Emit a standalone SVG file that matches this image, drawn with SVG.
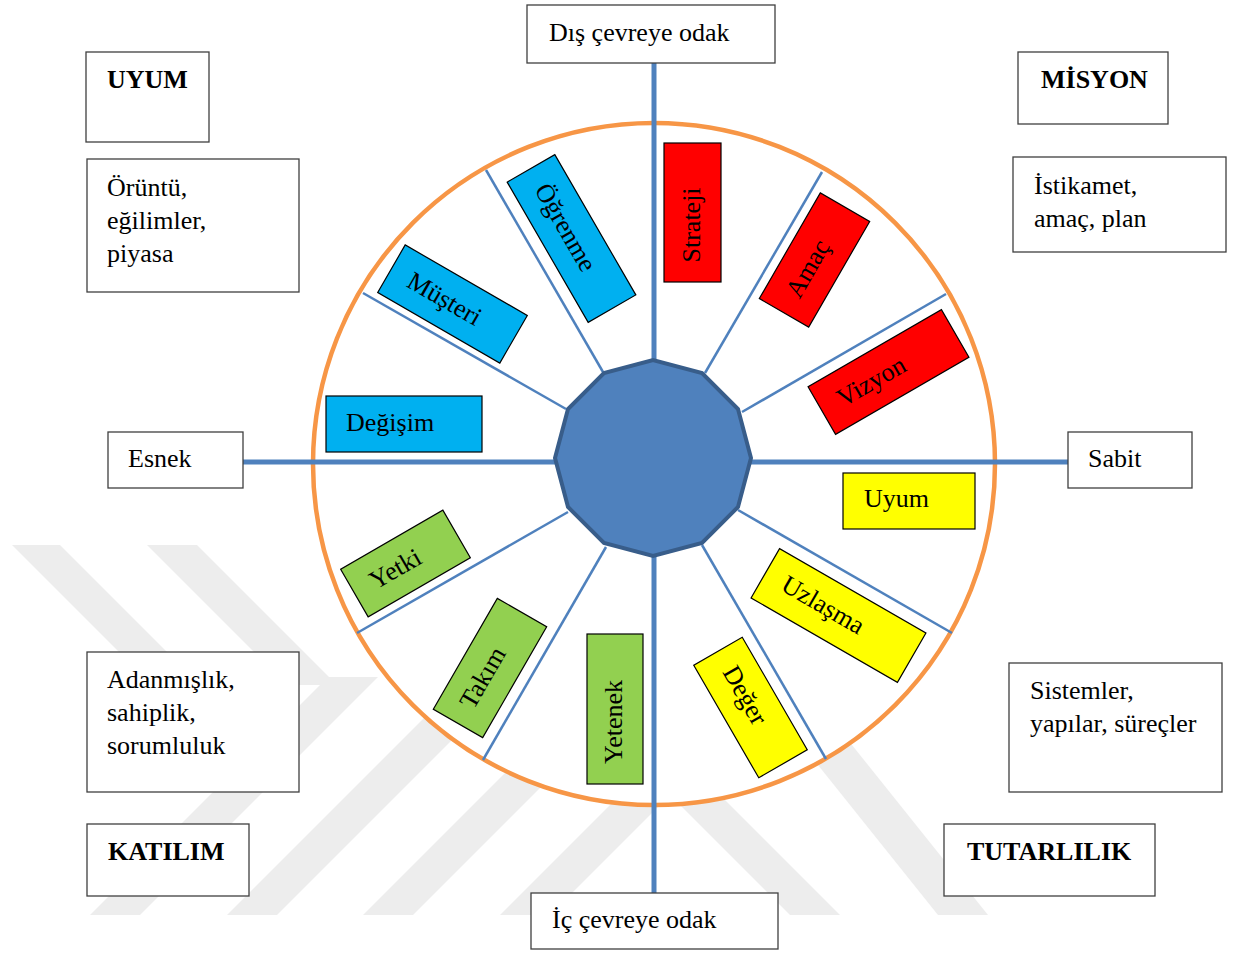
<svg xmlns="http://www.w3.org/2000/svg" width="1235" height="954" viewBox="0 0 1235 954">
  <style>
    text { font-family: "Liberation Serif", "Times New Roman", serif; font-size: 26px; fill: #000; }
    .bold { font-weight: bold; }
    .box { fill: #fff; stroke: #3f3f3f; stroke-width: 1.3; }
    .tag { stroke: #000; stroke-width: 1.2; }
    .blue { fill: #00B0F0; }
    .red { fill: #FF0000; }
    .yellow { fill: #FFFF00; }
    .green { fill: #92D050; }
    .axis { stroke: #4F81BD; stroke-width: 5; fill: none; }
    .spoke { stroke: #4F81BD; stroke-width: 2.5; fill: none; }
    .wm { fill: #ededed; }
  </style>

  <rect width="1235" height="954" fill="#fff"/>

  <!-- faint background mark: diagonal bands -->
  <g id="backdrop">
    <polygon class="wm" points="12,545 60,545 200,685 152,685"/>
    <polygon class="wm" points="147,545 197,545 337,685 287,685"/>
    <polygon class="wm" points="90,915 140,915 378,677 328,677"/>
    <polygon class="wm" points="227,915 277,915 515,677 465,677"/>
    <polygon class="wm" points="363,915 413,915 651,677 601,677"/>
    <polygon class="wm" points="500,915 550,915 700,765 650,765"/>
    <polygon class="wm" points="790,915 840,915 690,765 640,765"/>
    <polygon class="wm" points="938,915 988,915 836,725 786,725"/>
  </g>

  <!-- wheel -->
  <g id="wheel">
    <circle cx="654" cy="464" r="341" fill="#fff" stroke="#F79646" stroke-width="4.5"/>
  </g>

  <!-- axes and spokes -->
  <g id="connectors">
    <line class="axis" x1="654" y1="63" x2="654" y2="893"/>
    <line class="axis" x1="243" y1="462" x2="1068" y2="462"/>
    <line class="spoke" x1="603" y1="372" x2="486" y2="170"/>
    <line class="spoke" x1="566" y1="409" x2="363" y2="293"/>
    <line class="spoke" x1="705" y1="373" x2="822" y2="172"/>
    <line class="spoke" x1="742" y1="412" x2="946" y2="294"/>
    <line class="spoke" x1="568" y1="512" x2="357" y2="633"/>
    <line class="spoke" x1="606" y1="547" x2="483" y2="760"/>
    <line class="spoke" x1="738" y1="510" x2="952" y2="633"/>
    <line class="spoke" x1="702" y1="545" x2="826" y2="759"/>
  </g>

  <!-- hub -->
  <g id="hub">
    <polygon points="751,458 738,409 702,373 653,360 604,373 568,409 555,458 568,507 604,543 653,556 702,543 738,507" fill="#4F81BD" stroke="#385D8A" stroke-width="4" stroke-linejoin="miter"/>
  </g>

  <!-- value tags on the wheel -->
  <g id="tag-ogrenme" transform="translate(571.5,238.5) rotate(60)">
    <rect class="tag blue" x="-81" y="-27.5" width="162" height="55"/>
    <text x="-61" y="8">Öğrenme</text>
  </g>
  <g id="tag-musteri" transform="translate(452.5,304) rotate(30)">
    <rect class="tag blue" x="-70.5" y="-27.5" width="141" height="55"/>
    <text x="-50" y="8">Müşteri</text>
  </g>
  <g id="tag-degisim">
    <rect class="tag blue" x="326" y="396" width="156" height="56"/>
    <text x="346" y="431">Değişim</text>
  </g>
  <g id="tag-strateji" transform="translate(692.5,212.5) rotate(-90)">
    <rect class="tag red" x="-69.5" y="-28.5" width="139" height="57"/>
    <text x="-50" y="7">Strateji</text>
  </g>
  <g id="tag-amac" transform="translate(814.5,260) rotate(-60)">
    <rect class="tag red" x="-61" y="-28.5" width="122" height="57"/>
    <text x="-42" y="7">Amaç</text>
  </g>
  <g id="tag-vizyon" transform="translate(888.5,372) rotate(-30)">
    <rect class="tag red" x="-77" y="-27.5" width="154" height="55"/>
    <text x="-57" y="8">Vizyon</text>
  </g>
  <g id="tag-uyum">
    <rect class="tag yellow" x="843" y="473" width="132" height="56"/>
    <text x="864" y="507">Uyum</text>
  </g>
  <g id="tag-uzlasma" transform="translate(838.5,615.5) rotate(30)">
    <rect class="tag yellow" x="-84.5" y="-28.5" width="169" height="57"/>
    <text x="-64" y="7">Uzlaşma</text>
  </g>
  <g id="tag-deger" transform="translate(750.5,707.5) rotate(60)">
    <rect class="tag yellow" x="-65" y="-28" width="130" height="56"/>
    <text x="-45" y="7">Değer</text>
  </g>
  <g id="tag-yetki" transform="translate(405.5,563.5) rotate(-30)">
    <rect class="tag green" x="-59" y="-27.5" width="118" height="55"/>
    <text x="-39" y="8">Yetki</text>
  </g>
  <g id="tag-takim" transform="translate(490,668) rotate(-60)">
    <rect class="tag green" x="-64" y="-28.5" width="128" height="57"/>
    <text x="-45" y="7">Takım</text>
  </g>
  <g id="tag-yetenek" transform="translate(615,709) rotate(-90)">
    <rect class="tag green" x="-75" y="-28" width="150" height="56"/>
    <text x="-55" y="7">Yetenek</text>
  </g>

  <!-- axis end labels -->
  <g id="label-dis">
    <rect class="box" x="527" y="5" width="248" height="58"/>
    <text x="549" y="41">Dış çevreye odak</text>
  </g>
  <g id="label-ic">
    <rect class="box" x="531" y="893" width="247" height="56"/>
    <text x="552" y="928">İç çevreye odak</text>
  </g>
  <g id="label-esnek">
    <rect class="box" x="108" y="432" width="135" height="56"/>
    <text x="128" y="467">Esnek</text>
  </g>
  <g id="label-sabit">
    <rect class="box" x="1068" y="432" width="124" height="56"/>
    <text x="1088" y="467">Sabit</text>
  </g>

  <!-- quadrant titles -->
  <g id="title-uyum">
    <rect class="box" x="86" y="52" width="123" height="90"/>
    <text class="bold" x="107" y="88">UYUM</text>
  </g>
  <g id="title-misyon">
    <rect class="box" x="1018" y="52" width="150" height="72"/>
    <text class="bold" x="1041" y="88">MİSYON</text>
  </g>
  <g id="title-katilim">
    <rect class="box" x="87" y="824" width="162" height="72"/>
    <text class="bold" x="108" y="860">KATILIM</text>
  </g>
  <g id="title-tutarlilik">
    <rect class="box" x="944" y="824" width="211" height="72"/>
    <text class="bold" x="967" y="860">TUTARLILIK</text>
  </g>

  <!-- quadrant descriptions -->
  <g id="desc-uyum">
    <rect class="box" x="87" y="159" width="212" height="133"/>
    <text x="107" y="196">Örüntü,</text>
    <text x="107" y="229">eğilimler,</text>
    <text x="107" y="262">piyasa</text>
  </g>
  <g id="desc-misyon">
    <rect class="box" x="1013" y="157" width="213" height="95"/>
    <text x="1034" y="194">İstikamet,</text>
    <text x="1034" y="227">amaç, plan</text>
  </g>
  <g id="desc-katilim">
    <rect class="box" x="87" y="652" width="212" height="140"/>
    <text x="107" y="688">Adanmışlık,</text>
    <text x="107" y="721">sahiplik,</text>
    <text x="107" y="754">sorumluluk</text>
  </g>
  <g id="desc-tutarlilik">
    <rect class="box" x="1009" y="663" width="213" height="129"/>
    <text x="1030" y="699">Sistemler,</text>
    <text x="1030" y="732">yapılar, süreçler</text>
  </g>
</svg>
